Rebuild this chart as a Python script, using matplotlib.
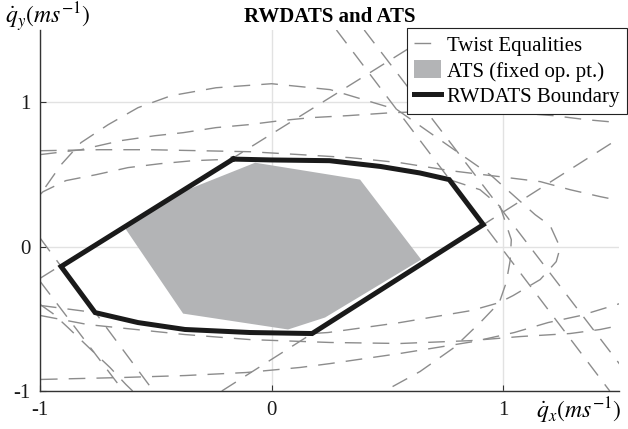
import matplotlib
matplotlib.use("Agg")
import matplotlib.pyplot as plt
from matplotlib.lines import Line2D
from matplotlib.patches import Patch

plt.rcParams['font.family'] = ['Liberation Serif', 'DejaVu Serif']
plt.rcParams['mathtext.fontset'] = 'stix'
plt.rcParams['axes.unicode_minus'] = False

# ---------------- data ----------------
ticks = [-1, 0, 1]
tick_labels = ['-1', '0', '1']

# RWDATS boundary (closed)
rw_x = [-0.166, 0.0, 0.25, 0.47, 0.64, 0.767, 0.914, 0.175, -0.093, -0.374, -0.577, -0.762, -0.909, -0.166]
rw_y = [0.606, 0.60, 0.595, 0.555, 0.51, 0.464, 0.152, -0.602, -0.595, -0.574, -0.526, -0.457, -0.138, 0.606]

# ATS polygon (fixed operating point)
ats_x = [-0.071, 0.382, 0.646, 0.231, 0.071, -0.382, -0.637, -0.438]
ats_y = [0.581, 0.464, -0.09, -0.491, -0.574, -0.464, 0.138, 0.346]

# twist equality curves
c1_x = [-1.04, -0.987, -0.909, -0.823, -0.706, -0.577, -0.434, -0.240, 0.0, 0.253, 0.542, 0.732, 0.95,
        1.138, 1.203, 1.246, 1.229, 1.160, 1.043, 0.983, 0.862, 0.555, 0.244, 0.175, -0.093, -0.374,
        -0.577, -0.762, -0.996, -1.04]
c1_y = [0.25, 0.388, 0.567, 0.720, 0.844, 0.962, 1.045, 1.100, 1.128, 1.087, 0.948, 0.734, 0.49,
        0.221, 0.145, -0.007, -0.104, -0.228, -0.339, -0.388, -0.443, -0.526, -0.595, -0.602, -0.595, -0.574,
        -0.526, -0.457, -0.408, -0.35]

e2_x = [-1.0, -0.987, -0.888, -0.758, -0.62, -0.482, -0.339, -0.166, 0.0, 0.25, 0.47, 0.64, 0.767, 0.90,
        0.987, 1.035, 1.03, 1.013, 0.983, 0.905, 0.788, 0.641, 0.499, 0.45]
e2_y = [0.36, 0.38, 0.457, 0.498, 0.547, 0.574, 0.595, 0.606, 0.60, 0.595, 0.555, 0.51, 0.464, 0.394,
        0.277, 0.048, -0.097, -0.249, -0.388, -0.519, -0.699, -0.865, -0.99, -1.03]

e2b_x = [-1.0, -0.944, -0.879, -0.78, -0.698, -0.629, -0.6]
e2b_y = [-0.40, -0.464, -0.561, -0.713, -0.837, -0.955, -1.0]

t2_x = [-1.0, -0.823, -0.65, -0.503, -0.382, -0.24, -0.102, 0.037, 0.17, 0.33, 0.516, 0.771, 0.987, 1.216, 1.359, 1.505]
t2_y = [0.637, 0.671, 0.734, 0.768, 0.789, 0.824, 0.844, 0.872, 0.893, 0.907, 0.927, 0.941, 0.934, 0.907, 0.879, 0.858]

t3_x = [-1.0, -0.741, -0.525, -0.309, -0.093, 0.123, 0.339, 0.555, 0.771, 0.987, 1.16, 1.289, 1.419, 1.505]
t3_y = [0.664, 0.671, 0.671, 0.664, 0.657, 0.637, 0.616, 0.581, 0.526, 0.484, 0.45, 0.394, 0.346, 0.318]

b1_x = [-0.996, -0.793, -0.374, -0.093, 0.253, 0.555, 0.862, 1.073, 1.289, 1.419, 1.501]
b1_y = [-0.478, -0.54, -0.609, -0.644, -0.664, -0.671, -0.651, -0.623, -0.602, -0.574, -0.547]

b2_x = [-0.996, -0.654, -0.374, -0.11, 0.123, 0.253, 0.555, 0.875, 1.048, 1.194, 1.333, 1.505]
b2_y = [-0.92, -0.907, -0.893, -0.872, -0.837, -0.81, -0.74, -0.657, -0.595, -0.526, -0.478, -0.394]

t5_x, t5_y = [-1.0, 0.73], [-0.22, 1.51]
t6_x, t6_y = [-0.215, 1.52], [-1.0, 0.77]
t7_x, t7_y = [0.28, 1.46], [1.5, -1.0]
t8_x, t8_y = [0.40, 1.52], [1.5, -0.85]
t9_x, t9_y = [-1.0, -0.51], [0.06, -1.0]
t8b_x, t8b_y = [-1.0, -0.64], [-0.24, -1.0]

curves = [(c1_x, c1_y), (e2_x, e2_y), (e2b_x, e2b_y), (t2_x, t2_y), (t3_x, t3_y),
          (b1_x, b1_y), (b2_x, b2_y), (t5_x, t5_y), (t6_x, t6_y), (t7_x, t7_y),
          (t8_x, t8_y), (t9_x, t9_y), (t8b_x, t8b_y)]

# ---------------- styling ----------------
DASH = '#8c8c8c'
GRAY = '#b3b4b6'
BLACK = '#1a1a1a'

fig = plt.figure(figsize=(6.28, 4.29), dpi=100)
ax = fig.add_axes([40 / 628, 1 - 391 / 429, 579 / 628, 361 / 429])

for cx, cy in curves:
    ax.plot(cx, cy, color=DASH, lw=1.0, dashes=(12, 8), zorder=2)

ax.fill(ats_x, ats_y, color=GRAY, lw=0, zorder=3)
ax.plot(rw_x, rw_y, color=BLACK, lw=3.6, solid_joinstyle='miter', zorder=4)

ax.set_xlim(-1, 1.5)
ax.set_ylim(-1, 1.5)
ax.set_xticks(ticks)
ax.set_xticklabels(tick_labels)
ax.set_yticks(ticks)
ax.set_yticklabels(tick_labels)
ax.grid(True, color='#e2e2e2', lw=1.0)
ax.set_axisbelow(True)
for s in ['top', 'right']:
    ax.spines[s].set_visible(False)
for s in ['left', 'bottom']:
    ax.spines[s].set_color('#333333')
    ax.spines[s].set_linewidth(1.0)
ax.tick_params(direction='in', length=4, width=0.8, colors='#333333',
               labelcolor='#1a1a1a', labelsize=15, pad=7)

ax.set_title('RWDATS and ATS', fontweight='bold', fontsize=15, pad=6)

fig.text(5 / 628, 1 - 17 / 429, r'$\dot{q}_y(ms^{-1})$', fontsize=17, ha='left', va='center')
fig.text(536 / 628, 1 - 411 / 429, r'$\dot{q}_x(ms^{-1})$', fontsize=17, ha='left', va='center')

handles = [Line2D([], [], color=DASH, lw=1.0, dashes=(12, 8)),
           Patch(facecolor=GRAY, edgecolor='none'),
           Line2D([], [], color=BLACK, lw=3.6)]
labels = ['Twist Equalities', 'ATS (fixed op. pt.)', 'RWDATS Boundary']
leg = ax.legend(handles, labels, loc='upper right', bbox_to_anchor=(1.014, 1.006),
                borderaxespad=0, fontsize=15, fancybox=False, framealpha=1,
                edgecolor='#222222', handlelength=1.3, handleheight=0.95,
                handletextpad=0.3, labelspacing=0.2, borderpad=0.35)
leg.get_frame().set_linewidth(0.8)
leg.set_zorder(10)

fig.savefig('out.png', dpi=100)
